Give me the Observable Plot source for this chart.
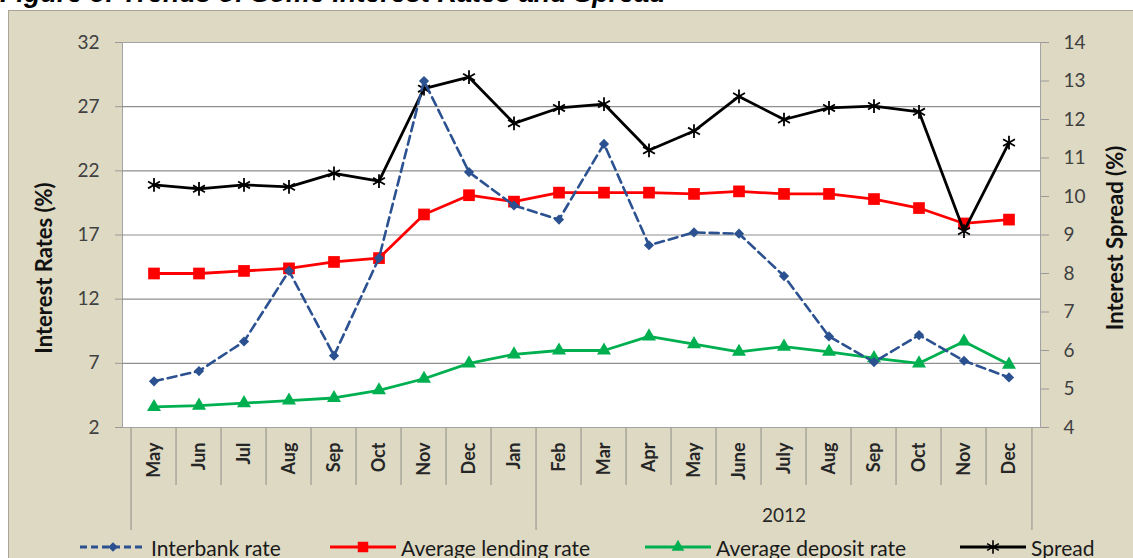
<!DOCTYPE html>
<html>
<head>
<meta charset="utf-8">
<script src="https://cdn.jsdelivr.net/npm/d3@7"></script>
<script src="https://cdn.jsdelivr.net/npm/@observablehq/plot@0.6"></script>
<style>
  html, body { margin: 0; padding: 0; background: #ffffff; }
  #wrap { position: relative; width: 1133px; height: 558px; overflow: hidden; font-family: Lato, "Open Sans", sans-serif; }
  #title { position: absolute; left: 0; top: -20px; font-family: "Liberation Sans", Arial, sans-serif; font-weight: bold; font-style: italic; font-size: 27px; line-height: 27px; color: #000; white-space: nowrap; }
  #panel { position: absolute; left: 8px; top: 10px; width: 1140px; height: 560px; background: #ddd9c3; border: 1px solid #a8a696; box-sizing: border-box; }
  #chart { position: absolute; left: 0; top: 0; }
  #legend { position: absolute; left: 0; top: 536px; width: 1133px; height: 22px; }
  .item { position: absolute; top: 0; height: 22px; display: flex; align-items: center; font-size: 21px; color: #1a1a1a; white-space: nowrap; }
  .item svg { margin-right: 5px; }
</style>
</head>
<body>
<div id="wrap">
  <div id="panel"></div>
  <div id="title"></div>
  <div id="chart"></div>
  <div id="legend"></div>
</div>
<script>
// ---- Data ----
const titleText = "Figure 5: Trends of Some Interest Rates and Spread";
const months = ["May","Jun","Jul","Aug","Sep","Oct","Nov","Dec","Jan","Feb","Mar","Apr","May","June","July","Aug","Sep","Oct","Nov","Dec"];
const yearGroups = [{label: "", start: 0, end: 8}, {label: "2012", start: 9, end: 19}];
const interbank = [5.6, 6.4, 8.7, 14.2, 7.6, 15.2, 29.0, 21.9, 19.3, 18.2, 24.1, 16.2, 17.2, 17.1, 13.8, 9.1, 7.1, 9.2, 7.2, 5.9];
const lending   = [14.0, 14.0, 14.2, 14.4, 14.9, 15.2, 18.6, 20.1, 19.6, 20.3, 20.3, 20.3, 20.2, 20.4, 20.2, 20.2, 19.8, 19.1, 17.9, 18.2];
const deposit   = [3.6, 3.7, 3.9, 4.1, 4.3, 4.9, 5.8, 7.0, 7.7, 8.0, 8.0, 9.1, 8.5, 7.9, 8.3, 7.9, 7.4, 7.0, 8.7, 6.9];
const spread    = [10.3, 10.2, 10.3, 10.25, 10.6, 10.4, 12.8, 13.1, 11.9, 12.3, 12.4, 11.2, 11.7, 12.6, 12.0, 12.3, 12.35, 12.2, 9.1, 11.4];
const leftTicks = [2, 7, 12, 17, 22, 27, 32];
const rightTicks = [4, 5, 6, 7, 8, 9, 10, 11, 12, 13, 14];
const seriesNames = ["Interbank rate", "Average lending rate", "Average deposit rate", "Spread"];

// ---- Layout ----
const W = 1133, H = 535;
const mL = 122, mR = 93, mT = 42, mB = 108;
const bw = (W - mL - mR) / months.length;
const leftDomain = [2, 32], rightDomain = [4, 14];
const toLeft = s => leftDomain[0] + (s - rightDomain[0]) * (leftDomain[1] - leftDomain[0]) / (rightDomain[1] - rightDomain[0]);
const fromLeft = v => rightDomain[0] + (v - leftDomain[0]) * (rightDomain[1] - rightDomain[0]) / (leftDomain[1] - leftDomain[0]);

const C = {interbank: "#2b5190", lending: "#ff0000", deposit: "#00b050", spread: "#000000"};
const idx = months.map((m, i) => i);
const rows = (arr) => arr.map((v, i) => ({i, v}));
const spreadRows = spread.map((v, i) => ({i, v: toLeft(v)}));

// separators
const shortSeps = idx.slice(1).filter(i => !yearGroups.some(g => g.start === i));
const longSeps = yearGroups.map(g => g.start);

const plot = Plot.plot({
  width: W, height: H,
  marginLeft: mL, marginRight: mR, marginTop: mT, marginBottom: mB,
  style: {background: "transparent", fontFamily: "Lato, 'Open Sans', sans-serif", color: "#404040", overflow: "visible"},
  x: {type: "band", domain: idx, padding: 0, axis: null},
  y: {domain: leftDomain, axis: null},
  marks: [
    Plot.frame({fill: "white", stroke: "#a3a3a3"}),
    Plot.gridY(leftTicks.slice(1, -1), {stroke: "#8f8f8f", strokeOpacity: 1, strokeWidth: 1.2}),
    // category separators
    Plot.ruleX(shortSeps, {x: d => d, dx: -bw / 2, insetTop: H - mT - mB, insetBottom: -58, stroke: "#9a9a90", strokeWidth: 1.2}),
    Plot.ruleX(longSeps, {x: d => d, dx: -bw / 2, insetTop: H - mT - mB, insetBottom: -103, stroke: "#9a9a90", strokeWidth: 1.2}),
    Plot.ruleX([idx[idx.length - 1]], {x: d => d, dx: bw / 2, insetTop: H - mT - mB, insetBottom: -103, stroke: "#9a9a90", strokeWidth: 1.2}),
    // axes
    Plot.axisY(leftTicks, {anchor: "left", tickSize: 7, tickPadding: 16, stroke: "#9a9a9a", fontSize: 19, label: null}),
    Plot.axisY(rightTicks.map(toLeft), {anchor: "right", tickSize: 8, tickPadding: 15, stroke: "#9a9a9a", fontSize: 19, label: null, tickFormat: v => String(Math.round(fromLeft(v)))}),
    Plot.axisX(idx, {anchor: "bottom", tickSize: 0, tickPadding: 15, tickRotate: -90, fontSize: 18, fontWeight: "bold", fill: "#262626", label: null, tickFormat: i => months[i]}),
    // axis titles
    Plot.text(["Interest Rates (%)"], {frameAnchor: "left", dx: -78, dy: 33, rotate: -90, textAnchor: "middle", lineAnchor: "middle", fontSize: 22, fontWeight: "bold", fill: "#111", text: d => d}),
    Plot.text(["Interest Spread (%)"], {frameAnchor: "right", dx: 75, dy: 3, rotate: -90, textAnchor: "middle", lineAnchor: "middle", fontSize: 22, fontWeight: "bold", fill: "#111", text: d => d}),
    // group label
    Plot.text(yearGroups.filter(g => g.label), {x: g => g.start + Math.floor((g.end - g.start) / 2), dx: ((yearGroups[1].end - yearGroups[1].start) % 2 ? bw / 2 : 0), frameAnchor: "bottom", dy: 94, fontSize: 19, fill: "#262626", text: g => g.label}),
    // series
    Plot.line(rows(lending), {x: "i", y: "v", stroke: C.lending, strokeWidth: 2.8}),
    Plot.dot(rows(lending), {x: "i", y: "v", symbol: "square", r: 6.6, fill: C.lending}),
    Plot.line(rows(deposit), {x: "i", y: "v", stroke: C.deposit, strokeWidth: 2.8}),
    Plot.dot(rows(deposit), {x: "i", y: "v", symbol: "triangle", r: 5.2, fill: C.deposit}),
    Plot.line(spreadRows, {x: "i", y: "v", stroke: C.spread, strokeWidth: 2.8}),
    Plot.dot(spreadRows, {x: "i", y: "v", symbol: "asterisk", r: 6.5, stroke: C.spread, strokeWidth: 1.8}),
    Plot.line(rows(interbank), {x: "i", y: "v", stroke: C.interbank, strokeWidth: 2.6, strokeDasharray: "9,5"}),
    Plot.dot(rows(interbank), {x: "i", y: "v", symbol: "diamond2", r: 4.6, fill: C.interbank})
  ]
});
document.getElementById("chart").appendChild(plot);
document.getElementById("title").textContent = titleText;

// ---- Legend ----
const legendPos = [80, 330, 645, 960];
const swatch = (k) => {
  const w = 66, h = 22, c = [C.interbank, C.lending, C.deposit, C.spread][k];
  const ns = "http://www.w3.org/2000/svg";
  const s = document.createElementNS(ns, "svg");
  s.setAttribute("width", w); s.setAttribute("height", h);
  const line = document.createElementNS(ns, "line");
  line.setAttribute("x1", 0); line.setAttribute("x2", w); line.setAttribute("y1", h / 2); line.setAttribute("y2", h / 2);
  line.setAttribute("stroke", c); line.setAttribute("stroke-width", 2.8);
  if (k === 0) line.setAttribute("stroke-dasharray", "7,4");
  s.appendChild(line);
  const sym = [d3.symbolDiamond2, d3.symbolSquare, d3.symbolTriangle, d3.symbolAsterisk][k];
  const size = [60, 110, 70, 130][k];
  const p = document.createElementNS(ns, "path");
  p.setAttribute("d", d3.symbol(sym, size)());
  p.setAttribute("transform", `translate(${w / 2},${h / 2})`);
  if (k === 3) { p.setAttribute("fill", "none"); p.setAttribute("stroke", c); p.setAttribute("stroke-width", 1.6); }
  else p.setAttribute("fill", c);
  s.appendChild(p);
  return s;
};
const legend = document.getElementById("legend");
seriesNames.forEach((name, k) => {
  const d = document.createElement("div");
  d.className = "item";
  d.style.left = legendPos[k] + "px";
  d.appendChild(swatch(k));
  const t = document.createElement("span");
  t.textContent = name;
  d.appendChild(t);
  legend.appendChild(d);
});
</script>
</body>
</html>
